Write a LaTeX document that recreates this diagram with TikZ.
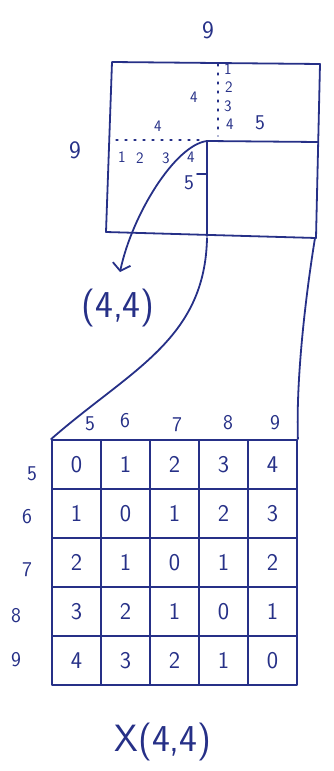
\documentclass[tikz,border=0pt]{standalone}
\usepackage{fontspec}
\usetikzlibrary{arrows.meta}
\definecolor{ink}{RGB}{38,48,135}
\begin{document}
\begin{tikzpicture}[x=1pt,y=-1pt,line width=1.8pt,color=ink,line cap=round,line join=round,
  cell/.style={draw,minimum size=49pt,inner sep=0pt,font=\sffamily\fontsize{24}{26}\selectfont},
  lab/.style={inner sep=1pt,font=\sffamily\fontsize{21}{23}\selectfont},
  small/.style={inner sep=1pt,font=\sffamily\fontsize{16}{17}\selectfont},
  big/.style={inner sep=1pt,font=\sffamily\fontsize{38}{40}\selectfont},
  dots/.style={line width=1.3pt,dash pattern=on 2pt off 7pt}]
\useasboundingbox (0,0) rectangle (333,771);
% big square
\coordinate (tl) at (112,62);
\coordinate (tr) at (320,64);
\coordinate (br) at (316,238);
\coordinate (bl) at (106,232);
\coordinate (ic) at (207,141);
\coordinate (ir) at (318,142);
\coordinate (ib) at (207,236);
\draw (tl) -- (tr) -- (br) -- (bl) -- cycle;
\draw (ib) -- (ic) -- (ir);
% dotted guide lines
\coordinate (dv1) at (218,64);
\coordinate (dv2) at (218,136);
\coordinate (dh1) at (116,140);
\coordinate (dh2) at (203,140);
\draw[dots] (dv1) -- (dv2);
\draw[dots] (dh1) -- (dh2);
\coordinate (tk1) at (197,174);
\coordinate (tk2) at (207,174);
\draw (tk1) -- (tk2);
% labels of the big square
\node[lab,font=\sffamily\fontsize{25}{27}\selectfont] (ntop) at (208,30) {9};
\node[lab,font=\sffamily\fontsize{25}{27}\selectfont] (nleft) at (75,150) {9};
\node[small] (v1) at (228,69) {1};
\node[small] (v2) at (229,87) {2};
\node[small] (v3) at (228,106) {3};
\node[small] (v4) at (230,124) {4};
\node[small] (vf) at (194,97) {4};
\node[lab] (vfive) at (260,123) {5};
\node[small] (h1) at (122,157) {1};
\node[small] (h2) at (140,158) {2};
\node[small] (h3) at (166,158) {3};
\node[small] (h4) at (191,157) {4};
\node[small] (hf) at (158,126) {4};
\node[lab] (hfive) at (189,183) {5};
% curved arrow
\coordinate (tip) at (120,272);
\draw[-{Straight Barb[length=7pt,width=18pt]}] (ic) .. controls (175,145) and (132,215) .. (tip);
\node[big] (p44) at (118,308) {(4,4)};
% connecting curves
\coordinate (s0) at (207,238);
\coordinate (r0) at (315,238);
% grid
\foreach \i in {0,...,4}{
  \foreach \j in {0,...,4}{
    \pgfmathtruncatemacro\v{abs(\i-\j)}
    \node[cell] (c\i\j) at ({76.5+49*\j},{464.5+49*\i}) {\v};
  }
}
\draw (s0) .. controls (205,340) and (130,370) .. (c00.north west);
\draw (r0) .. controls (305,300) and (296,380) .. (c04.north east);
% column labels
\node[lab] (k5) at (90,424) {5};
\node[lab] (k6) at (125,421) {6};
\node[lab] (k7) at (177,425) {7};
\node[lab] (k8) at (228,423) {8};
\node[lab] (k9) at (275,423) {9};
% row labels
\node[lab] (r5) at (32,474) {5};
\node[lab] (r6) at (27,517) {6};
\node[lab] (r7) at (27,570) {7};
\node[lab] (r8) at (16,616) {8};
\node[lab] (r9) at (16,660) {9};
% bottom label
\node[big] (x44) at (163,742) {X(4,4)};
\end{tikzpicture}
\end{document}
